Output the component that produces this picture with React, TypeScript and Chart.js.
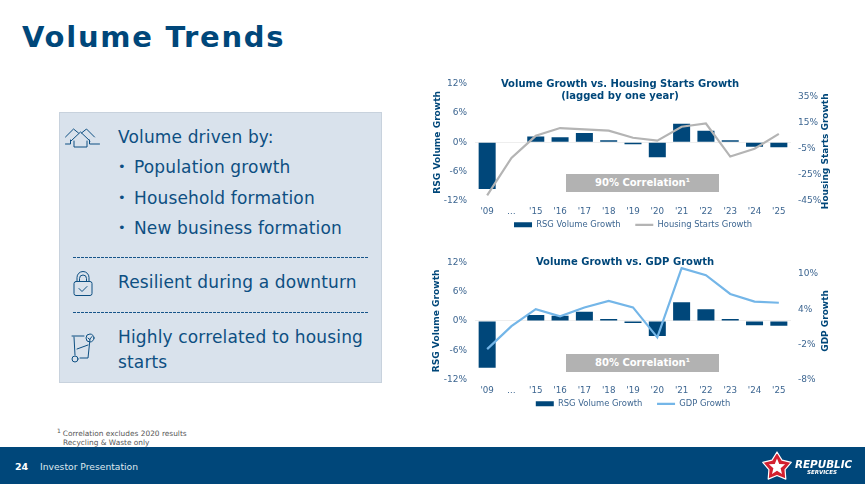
import React, { useEffect, useRef } from "react";
import { Chart, registerables } from "chart.js";

Chart.register(...registerables);

const categories = ["'09", "…", "'15", "'16", "'17", "'18", "'19", "'20", "'21", "'22", "'23", "'24", "'25"];
const rsgVolumeGrowth = [-9.6, null, 1.2, 1.05, 1.9, 0.4, -0.4, -3.1, 3.8, 2.4, 0.4, -0.9, -1.0];
const housingStartsGrowth = [-41, -12, 5, 11, 10, 9, 3.5, 1.3, 12, 14.5, -11, -5, 6.5];
const gdpGrowth = [-2.8, 1.1, 4, 2.8, 4.3, 5.4, 4.3, -0.8, 11, 9.8, 6.6, 5.3, 5.1];
const housingTicks = [-45, -25, -5, 15, 35];
const gdpTicks = [-8, -2, 4, 10];

const FONT = "'DejaVu Sans'";
const NAVY = "#00477a";
const TICK = "#3d6691";

const rightTitlePlugin = {
  id: "rightTitle",
  afterDraw(chart: any, _a: any, o: any) {
    const { ctx, chartArea } = chart;
    ctx.save();
    ctx.translate(o.x, (chartArea.top + chartArea.bottom) / 2 + o.shift);
    ctx.rotate(-Math.PI / 2);
    ctx.font = `bold 9px ${FONT}`;
    ctx.fillStyle = NAVY;
    ctx.textAlign = "center";
    ctx.textBaseline = "middle";
    ctx.fillText(o.text, 0, 0);
    ctx.restore();
  },
};

type ChartSpec = {
  title: string | string[];
  titlePadding: { top: number; bottom: number };
  lineName: string;
  lineValues: number[];
  lineColor: string;
  rightTicks: number[];
  rightMin: number;
  rightMax: number;
  rightTitle: string;
  rightTitleShift: number;
  rightTitleX: number;
  leftTitlePad: number;
  leftWidth: number;
  rightWidth: number;
};

function MiniChart({ spec, style }: { spec: ChartSpec; style: React.CSSProperties }) {
  const ref = useRef<HTMLCanvasElement>(null);
  useEffect(() => {
    const chart = new Chart(ref.current!, {
      type: "bar",
      plugins: [rightTitlePlugin],
      data: {
        labels: categories,
        datasets: [
          {
            type: "bar",
            label: "RSG Volume Growth",
            data: rsgVolumeGrowth,
            backgroundColor: NAVY,
            barPercentage: 0.7,
            categoryPercentage: 1,
            yAxisID: "y",
            order: 1,
          },
          {
            type: "line",
            label: spec.lineName,
            data: spec.lineValues,
            borderColor: spec.lineColor,
            backgroundColor: spec.lineColor,
            borderWidth: 2.2,
            pointRadius: 0,
            tension: 0,
            yAxisID: "y1",
            order: 0,
          },
        ],
      } as any,
      options: {
        animation: false,
        responsive: false,
        devicePixelRatio: 1,
        layout: { padding: 0 },
        plugins: {
          tooltip: { enabled: false },
          rightTitle: { text: spec.rightTitle, shift: spec.rightTitleShift, x: spec.rightTitleX },
          title: {
            display: true,
            text: spec.title,
            color: NAVY,
            font: { family: FONT, size: 10, weight: "bold", lineHeight: 1.25 },
            padding: spec.titlePadding,
          },
          legend: {
            position: "bottom",
            fullSize: false,
            labels: {
              color: TICK,
              font: { family: FONT, size: 8.4 },
              usePointStyle: true,
              pointStyleWidth: 18,
              boxHeight: 5,
              padding: 4,
              sort: (a: any, b: any) => a.datasetIndex - b.datasetIndex,
              generateLabels: (c: any) =>
                Chart.defaults.plugins.legend.labels.generateLabels(c).map((l: any) => ({
                  ...l,
                  text: l.datasetIndex === 0 ? `${l.text}    ` : l.text,
                  pointStyle: l.datasetIndex === 0 ? "rect" : "line",
                })),
            },
          },
        } as any,
        scales: {
          x: {
            grid: { display: false, drawTicks: false },
            border: { display: false },
            afterFit: (s: any) => {
              s.height = 16;
            },
            ticks: {
              color: TICK,
              font: { family: FONT, size: 8.7 },
              padding: 6,
              maxRotation: 0,
              autoSkip: false,
            },
          },
          y: {
            min: -12,
            max: 12,
            afterFit: (s: any) => {
              s.width = spec.leftWidth;
            },
            border: { display: false },
            grid: {
              drawTicks: false,
              color: (c: any) => (c.tick.value === 0 ? "#eeeeee" : "transparent"),
            },
            ticks: {
              stepSize: 6,
              color: TICK,
              font: { family: FONT, size: 9 },
              padding: 8,
              callback: (v: any) => `${v}%`,
            },
            title: {
              display: true,
              text: "RSG Volume Growth",
              color: NAVY,
              font: { family: FONT, size: 9.1, weight: "bold" },
              padding: { top: spec.leftTitlePad, bottom: 0 },
            },
          },
          y1: {
            position: "right",
            min: spec.rightMin,
            max: spec.rightMax,
            afterFit: (s: any) => {
              s.width = spec.rightWidth;
            },
            afterBuildTicks: (s: any) => {
              s.ticks = spec.rightTicks.map((value) => ({ value }));
            },
            border: { display: false },
            grid: { display: false, drawTicks: false },
            ticks: {
              color: TICK,
              font: { family: FONT, size: 9 },
              padding: 7,
              callback: (v: any) => `${v}%`,
            },
          },
        },
      } as any,
    });
    return () => chart.destroy();
  }, [spec]);
  return <canvas ref={ref} width={style.width as number} height={style.height as number} style={{ position: "absolute", ...style }} />;
}

const housingSpec: ChartSpec = {
  title: ["Volume Growth vs. Housing Starts Growth", "(lagged by one year)"],
  titlePadding: { top: 7.75, bottom: -18.75 },
  lineName: "Housing Starts Growth",
  lineValues: housingStartsGrowth,
  lineColor: "#b4b4b4",
  rightTicks: housingTicks,
  rightMin: -45,
  rightMax: 45,
  rightTitle: "Housing Starts Growth",
  rightTitleShift: 9,
  rightTitleX: 420,
  leftTitlePad: 26,
  leftWidth: 69,
  rightWidth: 43,
};

const gdpSpec: ChartSpec = {
  title: "Volume Growth vs. GDP Growth",
  titlePadding: { top: 11, bottom: -6.25 },
  lineName: "GDP Growth",
  lineValues: gdpGrowth,
  lineColor: "#74b6e8",
  rightTicks: gdpTicks,
  rightMin: -8,
  rightMax: 12,
  rightTitle: "GDP Growth",
  rightTitleShift: 0,
  rightTitleX: 410,
  leftTitlePad: 15,
  leftWidth: 59,
  rightWidth: 43,
};

const abs = (left: number, top: number, extra: React.CSSProperties = {}): React.CSSProperties => ({
  position: "absolute",
  left,
  top,
  whiteSpace: "nowrap",
  ...extra,
});

function PanelText({ y, x = 118, size = 17, children }: { y: number; x?: number; size?: number; children: React.ReactNode }) {
  return (
    <div style={abs(x, y - 12, { fontSize: size, lineHeight: "24px", letterSpacing: 0.15, color: "#0d4f82" })}>{children}</div>
  );
}

function Dashes({ y }: { y: number }) {
  return (
    <div
      style={{
        position: "absolute",
        left: 73,
        top: y,
        width: 295,
        height: 1,
        background: "repeating-linear-gradient(90deg,#17558a 0,#17558a 3px,transparent 3px,transparent 4px)",
      }}
    />
  );
}

function CorrelationBox({ top, text }: { top: number; text: string }) {
  return (
    <div
      style={abs(566, top, {
        width: 153,
        height: 18,
        background: "#b2b2b2",
        color: "#fff",
        fontWeight: "bold",
        fontSize: 10,
        lineHeight: "18px",
        textAlign: "center",
      })}
    >
      {text}
    </div>
  );
}

const iconStroke = { fill: "none", stroke: "#0d4f82", strokeWidth: 1, strokeLinejoin: "round", strokeLinecap: "round" } as const;

function Icons() {
  return (
    <svg style={{ position: "absolute", left: 0, top: 0 }} width={865} height={484}>
      <g {...iconStroke}>
        <path d="M74 141 v6 h13 v-6 M71 141 l9.5 -9 l9.5 9" />
        <path d="M66 137 l8 -8 l5 4 M82 133 l5 -4 l8 8 M66 144 h5 v-4 M90 140 v4 h10" transform="translate(-0.5 0)" />
      </g>
      <g {...iconStroke} transform="translate(0 4.5)">
        <rect x={74} y={277} width={18} height={14} rx={2} />
        <path d="M77 277 v-4 a6 6 0 0 1 12 0 v4 M79.5 277 v-3 a3.5 3.5 0 0 1 7 0 v3 M79 284 l3 3 l5 -5" />
      </g>
      <g {...iconStroke}>
        <path d="M72 336 h12 M74 337 l1 18 M90 339 l-2 19 h-8 M77 349 l11 -4" />
        <circle cx={75} cy={359} r={3} />
        <circle cx={90} cy={338} r={4} />
        <path d="M88 338 l1.5 1.5 l2.5 -3" />
      </g>
    </svg>
  );
}

function Logo() {
  const star = (outer: number, inner: number) =>
    Array.from({ length: 10 }, (_, i) => {
      const r = i % 2 === 0 ? outer : inner;
      const a = -Math.PI / 2 + (i * Math.PI) / 5;
      return `${777 + r * Math.cos(a)},${467 + r * Math.sin(a)}`;
    }).join(" ");
  return (
    <svg style={{ position: "absolute", left: 0, top: 0 }} width={865} height={484}>
      <polygon points={star(15, 8.5)} fill="#d3202f" stroke="#fff" strokeWidth={1.2} strokeLinejoin="round" />
      <polygon points={star(8.5, 3.8)} fill="#fff" />
    </svg>
  );
}

export default function App() {
  return (
    <div
      style={{
        position: "fixed",
        left: 0,
        top: 0,
        width: 865,
        height: 484,
        overflow: "hidden",
        background: "#fff",
        fontFamily: FONT,
      }}
    >
      <div style={abs(22, 16, { fontSize: 29, lineHeight: "42px", fontWeight: "bold", color: "#00477a", letterSpacing: 1.75 })}>
        Volume Trends
      </div>

      <div style={{ position: "absolute", left: 59, top: 112, width: 321, height: 269, background: "#d9e2ec", border: "1px solid #c8d2dd" }} />
      <PanelText y={137}>Volume driven by:</PanelText>
      <PanelText y={167} x={118} size={13}>•</PanelText>
      <PanelText y={167} x={134}>Population growth</PanelText>
      <PanelText y={198} x={118} size={13}>•</PanelText>
      <PanelText y={198} x={134}>Household formation</PanelText>
      <PanelText y={228} x={118} size={13}>•</PanelText>
      <PanelText y={228} x={134}>New business formation</PanelText>
      <Dashes y={257} />
      <PanelText y={282}>Resilient during a downturn</PanelText>
      <Dashes y={312} />
      <PanelText y={337}>Highly correlated to housing</PanelText>
      <PanelText y={362}>starts</PanelText>
      <Icons />

      <MiniChart spec={housingSpec} style={{ left: 406, top: 70, width: 428, height: 169 }} />
      <MiniChart spec={gdpSpec} style={{ left: 416, top: 245, width: 418, height: 173 }} />
      <CorrelationBox top={174} text="90% Correlation¹" />
      <CorrelationBox top={354} text="80% Correlation¹" />

      <div style={abs(57, 429, { fontSize: 7.4, lineHeight: "9px", color: "#555" })}>
        <sup style={{ fontSize: 6, lineHeight: 0 }}>1 </sup>Correlation excludes 2020 results
      </div>
      <div style={abs(63, 438, { fontSize: 7.4, lineHeight: "9px", color: "#555" })}>Recycling &amp; Waste only</div>

      <div style={{ position: "absolute", left: 0, top: 447, width: 865, height: 37, background: "#00477a" }} />
      <div style={abs(15, 460, { fontSize: 9.5, lineHeight: "13px", fontWeight: "bold", color: "#fff" })}>24</div>
      <div style={abs(40, 460, { fontSize: 9.2, lineHeight: "13px", color: "#dfe7ee" })}>Investor Presentation</div>
      <Logo />
      <div style={abs(795, 458, { fontSize: 10.4, lineHeight: "12px", fontWeight: "bold", fontStyle: "italic", color: "#fff" })}>REPUBLIC</div>
      <div style={abs(807, 468, { fontSize: 5.5, lineHeight: "8px", fontWeight: "bold", fontStyle: "italic", color: "#fff" })}>SERVICES</div>
    </div>
  );
}
